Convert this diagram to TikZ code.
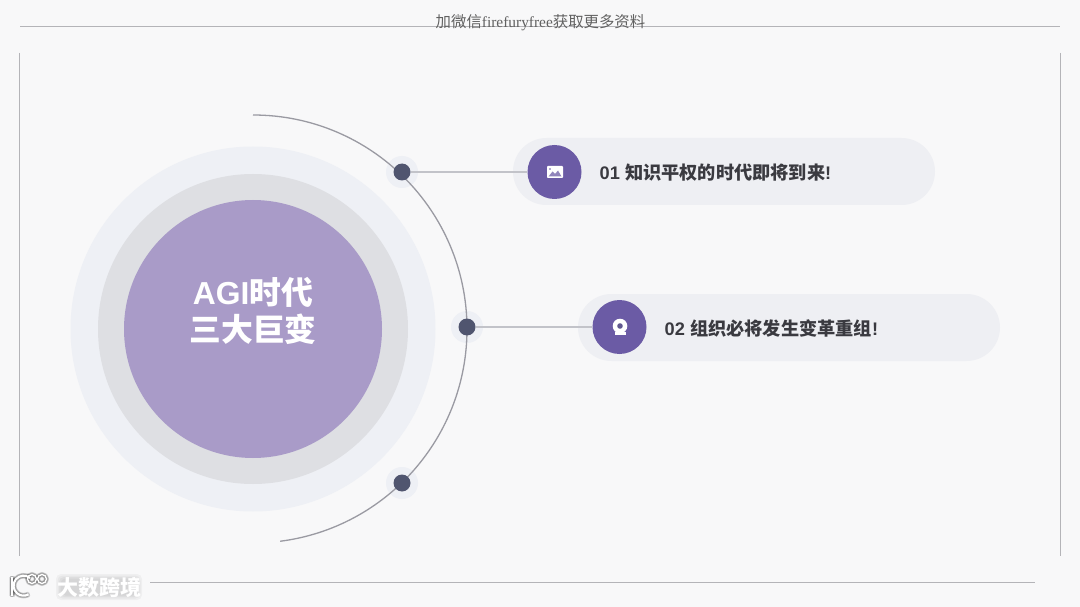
\documentclass[tikz,border=0pt]{standalone}
\usepackage{fontspec}
\setmainfont{Liberation Sans}
\newfontfamily\cjk{Noto Sans CJK SC}
\newfontfamily\latinserif{Liberation Serif}
\definecolor{bgc}{HTML}{F8F8F9}
\definecolor{framec}{HTML}{B4B4B8}
\definecolor{halo}{HTML}{EEF0F5}
\definecolor{ringtwo}{HTML}{DEDFE3}
\definecolor{core}{HTML}{A99BC8}
\definecolor{pillc}{HTML}{EEEFF3}
\definecolor{iconc}{HTML}{6B5BA5}
\definecolor{dotc}{HTML}{50556F}
\definecolor{linkc}{HTML}{C2C3C9}
\definecolor{arcc}{HTML}{9A9AA2}
\definecolor{labelc}{HTML}{3A3A40}
\tikzset{
  disc/.style={circle,inner sep=0pt,minimum size=#1},
  pill/.style={rectangle,rounded corners=33.5pt,fill=pillc,minimum width=422pt,minimum height=67pt,inner sep=0pt},
  iconbg/.style={disc=54pt,fill=iconc},
  haloDot/.style={disc=32pt,fill=halo},
  coreDot/.style={disc=17pt,fill=dotc},
  linkline/.style={draw=linkc,line width=1.1pt},
  frameline/.style={draw=framec,line width=0.9pt},
  labeltext/.style={anchor=west,inner sep=0pt,text=labelc,font=\fontsize{18.2}{20}\selectfont\bfseries},
  marktext/.style={inner sep=0pt,font=\fontsize{21}{24}\selectfont\cjk\bfseries},
}
\begin{document}
\begin{tikzpicture}[x=1pt,y=-1pt]
\useasboundingbox (0,0) rectangle (1080,607);
\fill[bgc] (0,0) rectangle (1080,607);
% frame
\coordinate (ftl) at (20,26.5); \coordinate (ftr) at (1060,26.5);
\coordinate (fla) at (19,53); \coordinate (flb) at (19,556);
\coordinate (fra) at (1060.5,53); \coordinate (frb) at (1060.5,556);
\coordinate (fba) at (150,582.5); \coordinate (fbb) at (1035,582.5);
\draw[frameline] (ftl) -- (ftr);
\draw[frameline] (fla) -- (flb);
\draw[frameline] (fra) -- (frb);
\draw[frameline] (fba) -- (fbb);
% concentric circles
\node[disc=365pt,fill=halo] (ringa) at (253,329) {};
\node[disc=310pt,fill=ringtwo] (ringb) at (253,329) {};
\node[disc=258pt,fill=core] (corec) at (253,329) {};
\node[inner sep=0pt,align=center,text=white,font=\fontsize{31.8}{36.5}\selectfont\bfseries] (title) at (253,311) {AGI{\cjk 时代}\\{\cjk 三大巨变}};
% pills
\node[pill] (pilla) at (724,171.5) {};
\node[pill] (pillb) at (789,327.5) {};
% dot halos
\node[haloDot] (haloa) at (402,172) {};
\node[haloDot] (halob) at (467,327) {};
\node[haloDot] (haloc) at (402,483) {};
% arc
\coordinate (arcs) at (253,115);
\draw[draw=arcc,line width=1.3pt] (arcs) arc[start angle=-90,end angle=82.7,radius=214];
% icons and dots
\node[iconbg] (icona) at (554.5,172) {};
\node[iconbg] (iconb) at (619.5,327) {};
\node[coreDot] (dota) at (402,172) {};
\node[coreDot] (dotb) at (467,327) {};
\node[coreDot] (dotc) at (402,483) {};
\draw[linkline] (dota) -- (icona);
\draw[linkline] (dotb) -- (iconb);
% labels
\node[labeltext] (laba) at (599.5,172.5) {01 {\cjk 知识平权的时代即将到来}!};
\node[labeltext] (labb) at (664.5,328.5) {02 {\cjk 组织必将发生变革重组}!};
% image icon
\fill[white,rounded corners=0.8pt] (547,166) rectangle (563,178);
\fill[iconc!75!white] (548.5,176.5) -- (552.5,171.5) -- (555,174) -- (558,170.5) -- (561.5,176.5) -- cycle;
\fill[iconc] (550,169) circle (0.8);
% webcam icon
\fill[white] (620,326) circle (7.3);
\fill[white] (614.5,332) rectangle (625.5,335);
\fill[iconc!60!dotc] (620,326) circle (2.8);
% top watermark
\node[inner sep=0pt,text=black!62,font=\fontsize{15.4}{17}\selectfont] (marktop) at (540.5,23) {{\cjk 加微信}{\latinserif firefuryfree}{\cjk 获取更多资料}};
% bottom watermark: soft grey glow, then one white text
\foreach \g in {0,1.5,3,4.5}{
  \fill[black,opacity=0.035,rounded corners=5pt] (56+\g,574+\g) rectangle (142-\g,600-\g);
}
\node[marktext,text=white] (markb) at (99,587) {大数跨境};
\foreach \dx/\dy in {-1.2/0,1.2/0,0/-1.2,0/1.2,-0.9/-0.9,0.9/0.9,-0.9/0.9,0.9/-0.9}{
  \draw[black,opacity=0.1,line width=3.2pt,shift={(\dx,\dy)}] (30,578) arc[start angle=-50,end angle=-300,radius=10];
  \draw[black,opacity=0.1,line width=3.2pt,shift={(\dx,\dy)}] (12,577) -- (12,596);
  \draw[black,opacity=0.1,line width=2.6pt,shift={(\dx,\dy)}] (32,579) circle (4.5) (42,579) circle (4.5);
}
\draw[white,line width=2.2pt] (30,578) arc[start angle=-50,end angle=-300,radius=10];
\draw[white,line width=2.2pt] (12,577) -- (12,596);
\draw[white,line width=1.4pt] (32,579) circle (4.5) (42,579) circle (4.5);
\end{tikzpicture}
\end{document}
